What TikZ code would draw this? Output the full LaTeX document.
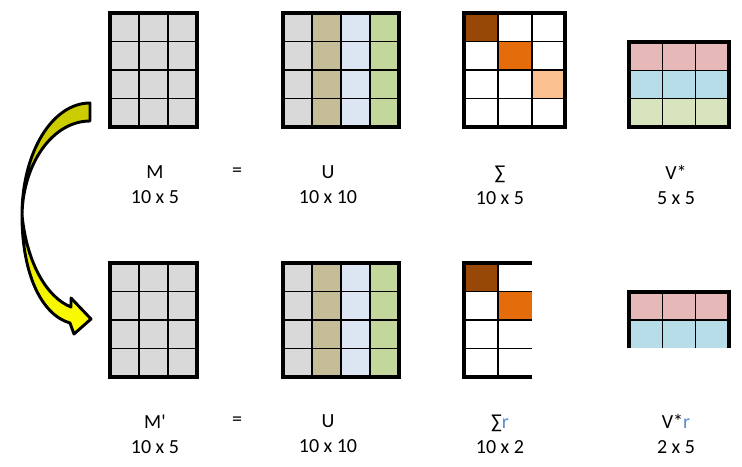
\documentclass[tikz,border=0pt]{standalone}
\usepackage{fontspec}
\setmainfont{Carlito}
\definecolor{cellgray}{HTML}{D9D9D9}
\definecolor{utan}{HTML}{C4BD97}
\definecolor{ublue}{HTML}{DCE6F2}
\definecolor{ugreen}{HTML}{C3D69B}
\definecolor{sdark}{HTML}{974806}
\definecolor{sorange}{HTML}{E46C0A}
\definecolor{speach}{HTML}{FAC090}
\definecolor{vpink}{HTML}{E6B9B8}
\definecolor{vblue}{HTML}{B7DEE8}
\definecolor{vgreen}{HTML}{D7E4BD}
\definecolor{rblue}{HTML}{558ED5}
\definecolor{backyellow}{HTML}{CCCC00}
\tikzset{
  thinline/.style={line width=1.1pt},
  frame/.style={line width=2.3pt},
  arrowline/.style={draw=black,line width=2.2pt,line join=round},
  lbl/.style={align=center,inner sep=0pt,font=\fontsize{15}{18.75}\selectfont}
}

\begin{document}
\begin{tikzpicture}[x=0.75pt,y=-0.75pt]
\useasboundingbox (0,0) rectangle (742,467);

% M and U, top row and bottom row
\foreach \dy in {0,250} {
  \begin{scope}[shift={(0,\dy)}]
    \fill[cellgray] (110,13) rectangle (197,127);
    \foreach \x in {139,168} \draw[thinline] (\x,13) -- (\x,127);
    \foreach \y in {41.5,70,98.5} \draw[thinline] (110,\y) -- (197,\y);
    \draw[frame] (110,13) rectangle (197,127);

    \fill[cellgray] (283,13) rectangle (312,127);
    \fill[utan] (312,13) rectangle (341,127);
    \fill[ublue] (341,13) rectangle (370,127);
    \fill[ugreen] (370,13) rectangle (399,127);
    \foreach \x in {312,341,370} \draw[thinline] (\x,13) -- (\x,127);
    \foreach \y in {41.5,70,98.5} \draw[thinline] (283,\y) -- (399,\y);
    \draw[frame] (283,13) rectangle (399,127);
  \end{scope}
}

% Sigma (top)
\fill[sdark] (464,13) rectangle (498,41.5);
\fill[sorange] (498,41.5) rectangle (532,70);
\fill[speach] (532,70) rectangle (565,98.5);
\foreach \x in {498,532} \draw[thinline] (\x,13) -- (\x,127);
\foreach \y in {41.5,70,98.5} \draw[thinline] (464,\y) -- (565,\y);
\draw[frame] (464,13) rectangle (565,127);

% V* (top)
\fill[vpink] (629,42) rectangle (729,70.3);
\fill[vblue] (629,70.3) rectangle (729,98.7);
\fill[vgreen] (629,98.7) rectangle (729,127);
\foreach \x in {662.3,695.7} \draw[thinline] (\x,42) -- (\x,127);
\foreach \y in {70.3,98.7} \draw[thinline] (629,\y) -- (729,\y);
\draw[frame] (629,42) rectangle (729,127);

% Sigma r (bottom)
\fill[sdark] (464,263) rectangle (498,291.5);
\fill[sorange] (498,291.5) rectangle (532,320);
\draw[thinline] (498,263) -- (498,377);
\foreach \y in {291.5,320,348.5} \draw[thinline] (464,\y) -- (532,\y);
\draw[frame] (532,263) -- (464,263) -- (464,377) -- (532,377);

% V* r (bottom)
\fill[vpink] (629,292) rectangle (729,320);
\fill[vblue] (629,320) rectangle (729,348);
\foreach \x in {662.3,695.7} \draw[thinline] (\x,292) -- (\x,348);
\draw[thinline] (629,320) -- (729,320);
\draw[frame] (629,348) -- (629,292) -- (729,292) -- (729,348);

% curved arrow
\filldraw[arrowline,fill=backyellow] (90,103) -- (90,121)
  .. controls (53,121) and (23,163) .. (22,215)
  .. controls (22,153) and (52,103) .. (90,103) -- cycle;
\filldraw[arrowline,top color=backyellow!60!yellow,bottom color=yellow]
  (22,215) .. controls (22,275) and (42,315) .. (70,323)
  -- (74,334) -- (91,319) -- (71,298) -- (71,307)
  .. controls (48,298) and (27,265) .. (22,215) -- cycle;

% labels
\node[lbl] (lM) at (155,185) {M\\10 x 5};
\node[lbl] (eqtop) at (237,172) {=};
\node[lbl] (lU) at (328,185) {U\\10 x 10};
\node[lbl] (lS) at (500,185) {∑\\10 x 5};
\node[lbl] (lV) at (676,185) {V*\\5 x 5};

\node[lbl] (lMr) at (155,434) {M\textquotesingle\\10 x 5};
\node[lbl] (eqbot) at (237,421) {=};
\node[lbl] (lUr) at (328,434) {U\\10 x 10};
\node[lbl] (lSr) at (500,434) {∑{\color{rblue}r}\\10 x 2};
\node[lbl] (lVr) at (676,434) {V*{\color{rblue}r}\\2 x 5};
\end{tikzpicture}
\end{document}
